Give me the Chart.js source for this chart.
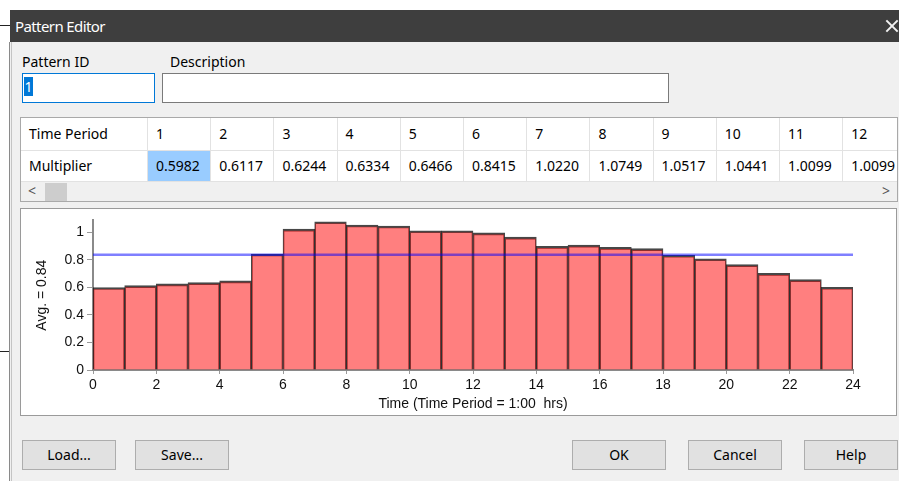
<!DOCTYPE html>
<html><head><meta charset="utf-8">
<script src="https://cdn.jsdelivr.net/npm/chart.js@4.4.1/dist/chart.umd.min.js"></script>
<style>
html,body{margin:0;padding:0;background:#fff;}
body{width:899px;height:481px;overflow:hidden;position:relative;font-family:"Noto Sans",sans-serif;font-size:14px;color:#000;}
.a{position:absolute;box-sizing:border-box;}
.cell{position:absolute;box-sizing:border-box;border-right:1px solid #e2e2e2;border-bottom:1px solid #e2e2e2;padding-left:8px;white-space:nowrap;overflow:hidden;background:#fff;}
.btn{position:absolute;box-sizing:border-box;background:#e1e1e1;border:1px solid #adadad;text-align:center;line-height:27px;font-size:14px;}
</style></head><body>

<!-- outside artifacts -->
<div class="a" style="left:0;top:25px;width:10px;height:1px;background:#222;"></div>
<div class="a" style="left:0;top:351px;width:9px;height:1px;background:#222;"></div>

<!-- title bar -->
<div class="a" style="left:10px;top:10px;width:889px;height:32px;background:#3e3e3e;"></div>
<div class="a" style="left:15px;top:10px;height:32px;line-height:32px;color:#fff;font-size:15px;letter-spacing:-0.6px;">Pattern Editor</div>
<div class="a" style="left:884px;top:25px;width:16px;height:2px;background:#f2f2f2;transform:rotate(45deg);transform-origin:50% 50%;"></div>
<div class="a" style="left:884px;top:25px;width:16px;height:2px;background:#f2f2f2;transform:rotate(-45deg);transform-origin:50% 50%;"></div>

<!-- dialog body -->
<div class="a" style="left:9px;top:42px;width:890px;height:439px;background:#f0f0f0;"></div>
<div class="a" style="left:9px;top:42px;width:1px;height:439px;background:#8a8a8a;"></div>
<div class="a" style="left:11px;top:42px;width:1px;height:439px;background:#c4c4c4;"></div>

<div class="a" style="left:22px;top:51px;line-height:22px;">Pattern ID</div>
<div class="a" style="left:170px;top:51px;line-height:22px;">Description</div>
<div class="a" style="left:22px;top:73px;width:133px;height:30px;background:#fff;border:1px solid #0078d7;"></div>
<div class="a" style="left:24px;top:77px;width:9px;height:19px;background:#0078d7;color:#fff;line-height:19px;text-align:center;">1</div>
<div class="a" style="left:162px;top:73px;width:507px;height:30px;background:#fff;border:1px solid #7a7a7a;"></div>

<!-- table -->
<div class="a" id="tbl" style="left:20px;top:117px;width:878px;height:85px;border:1px solid #a9a9a9;background:#f0f0f0;overflow:hidden;"></div>

<!-- chart panel -->
<div class="a" style="left:20px;top:208px;width:877px;height:208px;border:1px solid #9a9a9a;background:#fff;">
  <canvas id="c" width="875" height="206" style="position:absolute;left:0;top:0;width:875px;height:206px;"></canvas>
</div>

<!-- buttons -->
<div class="btn" style="left:22px;top:440px;width:94px;height:30px;">Load...</div>
<div class="btn" style="left:135px;top:440px;width:94px;height:30px;">Save...</div>
<div class="btn" style="left:572px;top:440px;width:94px;height:30px;">OK</div>
<div class="btn" style="left:688px;top:440px;width:94px;height:30px;">Cancel</div>
<div class="btn" style="left:804px;top:440px;width:94px;height:30px;">Help</div>

<script>
// ---- data ----
const periods = [1,2,3,4,5,6,7,8,9,10,11,12,13,14,15,16,17,18,19,20,21,22,23,24];
const multipliers = [0.5982,0.6117,0.6244,0.6334,0.6466,0.8415,1.0220,1.0749,1.0517,1.0441,1.0099,1.0099,
                     0.995,0.964,0.897,0.906,0.889,0.880,0.832,0.807,0.764,0.701,0.656,0.600];
const visibleColumns = 12;
const rowHeaders = ["Time Period","Multiplier"];
const xTickValues = [0,2,4,6,8,10,12,14,16,18,20,22,24];
const xTickLabels = ["0","2","4","6","8","10","12","14","16","18","20","22","24"];
const yTickValues = [0,0.2,0.4,0.6,0.8,1];
const yTickLabels = ["0","0.2","0.4","0.6","0.8","1"];
const yTitle = "Avg. = 0.84";
const xTitle = "Time (Time Period = 1:00  hrs)";

// ---- table ----
const tbl = document.getElementById('tbl');
function cell(x,y,w,h,txt,bg){
  const d=document.createElement('div');d.className='cell';
  d.style.left=x+'px';d.style.top=y+'px';d.style.width=w+'px';d.style.height=h+'px';
  d.style.lineHeight=(h-1)+'px';d.textContent=txt;if(bg)d.style.background=bg;
  tbl.appendChild(d);
}
const colW = 63.2, firstW = 127;
cell(0,0,firstW,33,rowHeaders[0]);
cell(0,33,firstW,31,rowHeaders[1]);
for(let i=0;i<visibleColumns;i++){
  const x = firstW + i*colW;
  cell(x,0,colW,33,String(periods[i]));
  cell(x,33,colW,31,multipliers[i].toFixed(4), i===0?'#99ccff':null);
}
// scrollbar
const sb=document.createElement('div');sb.className='a';
sb.style.cssText='left:0;top:64px;width:876px;height:19px;background:#f0f0f0;';
tbl.appendChild(sb);
const th=document.createElement('div');th.className='a';
th.style.cssText='left:24px;top:65px;width:22px;height:18px;background:#cdcdcd;';
tbl.appendChild(th);
const la=document.createElement('div');la.className='a';
la.style.cssText='left:7px;top:63px;line-height:19px;font-size:14px;color:#555;';
la.textContent='<';tbl.appendChild(la);
const ra=document.createElement('div');ra.className='a';
ra.style.cssText='left:861px;top:63px;line-height:19px;font-size:14px;color:#555;';
ra.textContent='>';tbl.appendChild(ra);

// ---- chart ----
const barPoints = periods.map((p,i)=>({x:p-0.5, y:multipliers[i]}));
const avg = multipliers.reduce((a,b)=>a+b,0)/multipliers.length;
const tickFont = {family:'"Liberation Sans", Arial, sans-serif', size:14};
const titleFont = {family:'"Liberation Sans", Arial, sans-serif', size:14};

new Chart(document.getElementById('c'), {
  type:'bar',
  data:{datasets:[
    {type:'line', data:[{x:0,y:avg},{x:24,y:avg}], borderColor:'rgba(0,0,255,0.5)', borderWidth:2.5,
     pointRadius:0, order:0, fill:false},
    {type:'bar', data:barPoints, backgroundColor:'rgba(255,0,0,0.5)', borderColor:'rgba(0,0,0,0.72)',
     borderWidth:{top:2,left:1,right:1,bottom:0}, borderSkipped:false,
     barPercentage:1, categoryPercentage:1, order:1}
  ]},
  options:{
    responsive:false, animation:false, devicePixelRatio:1,
    layout:{padding:{top:11,right:43,bottom:0,left:0}},
    plugins:{legend:{display:false}, tooltip:{enabled:false}},
    scales:{
      x:{type:'linear', min:0, max:24, offset:false,
        grid:{display:true, drawOnChartArea:false, drawTicks:true, tickLength:4, color:'#9a9a9a', offset:false},
        border:{display:true, color:'#8a8a8a', width:2},
        ticks:{padding:3, color:'#111', font:tickFont, maxRotation:0, autoSkip:false,
               callback:(v,i)=>xTickLabels[i]},
        afterBuildTicks:(s)=>{ s.ticks = xTickValues.map(v=>({value:v})); },
        afterFit:(s)=>{ s.height = 45; },
        title:{display:true, text:xTitle, color:'#111', font:titleFont, padding:{top:0,bottom:2}}
      },
      y:{type:'linear', min:0, max:1.085,
        grid:{display:true, drawOnChartArea:false, drawTicks:true, tickLength:6, color:'#9a9a9a'},
        border:{display:true, color:'#8a8a8a', width:2},
        ticks:{padding:3, color:'#111', font:tickFont, includeBounds:false,
               callback:(v,i)=>yTickLabels[i]},
        afterBuildTicks:(s)=>{ s.ticks = yTickValues.map(v=>({value:v})); },
        afterFit:(s)=>{ s.width = 72; },
        title:{display:true, text:yTitle, color:'#111', font:titleFont, padding:{top:13,bottom:0}}
      }
    }
  }
});
</script>
</body></html>
